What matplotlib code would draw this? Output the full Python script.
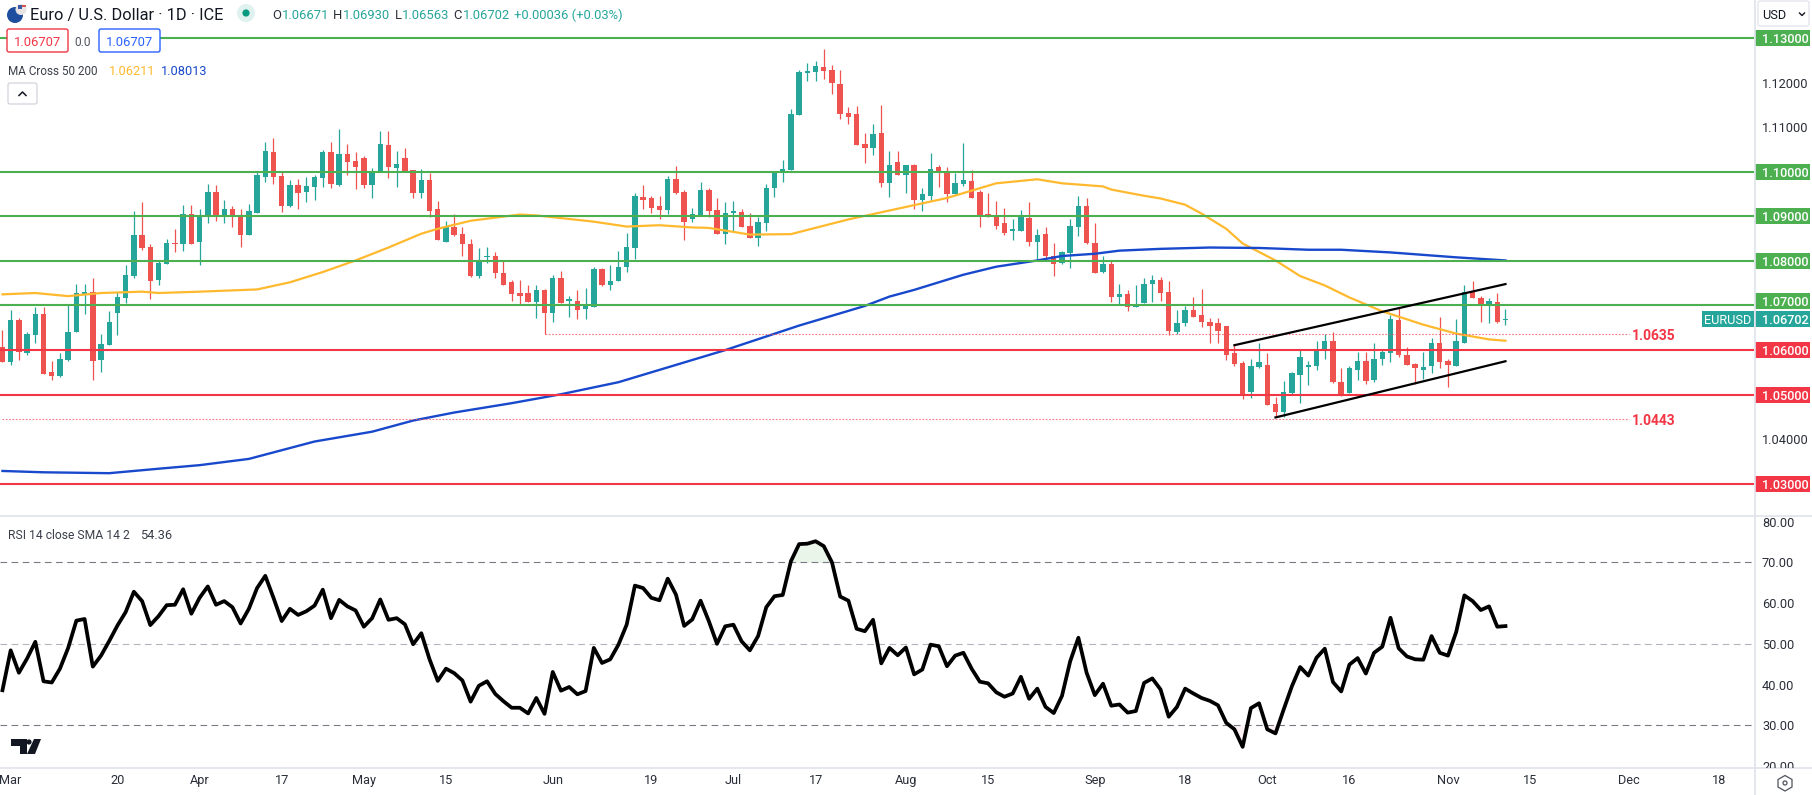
import matplotlib
matplotlib.use('Agg')
from matplotlib import pyplot as plt
from matplotlib.patches import Circle, FancyBboxPatch, Polygon, Rectangle
from matplotlib.transforms import Bbox, TransformedBbox

plt.rcParams['font.family'] = ['Roboto', 'DejaVu Sans']

# daily candles, first visible bar is 28 Feb
opens = [1.0608, 1.0573, 1.0667, 1.0593, 1.0633, 1.0680, 1.0550, 1.0541, 1.0577, 1.0640,
         1.0725, 1.0731, 1.0577, 1.0611, 1.0684, 1.0716, 1.0767, 1.0857, 1.0832, 1.0758,
         1.0794, 1.0841, 1.0839, 1.0906, 1.0843, 1.0899, 1.0955, 1.0904, 1.0917, 1.0899,
         1.0857, 1.0908, 1.0989, 1.1045, 1.0991, 1.0924, 1.0971, 1.0955, 1.0966, 1.0987,
         1.1045, 1.0971, 1.1040, 1.1025, 1.1031, 1.0971, 1.1000, 1.1060, 1.1009, 1.1031,
         1.1004, 1.0953, 1.0982, 1.0917, 1.0843, 1.0875, 1.0861, 1.0839, 1.0767, 1.0808,
         1.0812, 1.0772, 1.0752, 1.0727, 1.0727, 1.0707, 1.0734, 1.0684, 1.0761, 1.0709,
         1.0711, 1.0693, 1.0696, 1.0781, 1.0745, 1.0756, 1.0787, 1.0830, 1.0944, 1.0940,
         1.0922, 1.0915, 1.0984, 1.0955, 1.0893, 1.0904, 1.0960, 1.0915, 1.0861, 1.0908,
         1.0910, 1.0879, 1.0852, 1.0884, 1.0964, 1.0998, 1.1004, 1.1128, 1.1222, 1.1224,
         1.1235, 1.1228, 1.1197, 1.1132, 1.1130, 1.1063, 1.1054, 1.1087, 1.0975, 1.1022,
         1.0993, 1.1014, 1.0937, 1.0946, 1.1011, 1.1002, 1.0951, 1.0973, 1.0980, 1.0955,
         1.0906, 1.0904, 1.0884, 1.0868, 1.0868, 1.0897, 1.0843, 1.0861, 1.0812, 1.0796,
         1.0817, 1.0875, 1.0924, 1.0841, 1.0774, 1.0794, 1.0720, 1.0725, 1.0696, 1.0705,
         1.0749, 1.0758, 1.0731, 1.0640, 1.0660, 1.0691, 1.0678, 1.0662, 1.0660, 1.0655,
         1.0593, 1.0570, 1.0505, 1.0561, 1.0566, 1.0480, 1.0462, 1.0503, 1.0545, 1.0561,
         1.0564, 1.0601, 1.0620, 1.0529, 1.0503, 1.0555, 1.0575, 1.0534, 1.0579, 1.0593,
         1.0667, 1.0590, 1.0568, 1.0556, 1.0564, 1.0615, 1.0575, 1.0564, 1.0617, 1.0731,
         1.0716, 1.0700, 1.0707, 1.0667]
highs = [1.0646, 1.0691, 1.0673, 1.0640, 1.0696, 1.0696, 1.0575, 1.0593, 1.0700, 1.0749,
         1.0749, 1.0761, 1.0637, 1.0687, 1.0731, 1.0790, 1.0913, 1.0931, 1.0839, 1.0801,
         1.0850, 1.0872, 1.0926, 1.0926, 1.0917, 1.0973, 1.0971, 1.0937, 1.0924, 1.0917,
         1.0928, 1.1000, 1.1067, 1.1076, 1.1000, 1.0982, 1.0984, 1.0989, 1.0993, 1.1049,
         1.1067, 1.1096, 1.1063, 1.1045, 1.1036, 1.1009, 1.1092, 1.1092, 1.1047, 1.1054,
         1.1004, 1.1007, 1.0998, 1.0935, 1.0890, 1.0906, 1.0875, 1.0848, 1.0830, 1.0832,
         1.0821, 1.0801, 1.0758, 1.0758, 1.0745, 1.0747, 1.0736, 1.0769, 1.0778, 1.0722,
         1.0734, 1.0740, 1.0787, 1.0785, 1.0790, 1.0823, 1.0863, 1.0953, 1.0971, 1.0946,
         1.0946, 1.0991, 1.1013, 1.0960, 1.0919, 1.0978, 1.0964, 1.0942, 1.0933, 1.0935,
         1.0917, 1.0908, 1.0899, 1.0973, 1.1000, 1.1027, 1.1141, 1.1228, 1.1244, 1.1248,
         1.1275, 1.1239, 1.1228, 1.1146, 1.1148, 1.1087, 1.1107, 1.1150, 1.1047, 1.1047,
         1.1014, 1.1018, 1.0964, 1.1043, 1.1016, 1.1011, 1.0996, 1.1065, 1.1004, 1.0960,
         1.0953, 1.0935, 1.0919, 1.0895, 1.0915, 1.0931, 1.0872, 1.0877, 1.0841, 1.0823,
         1.0893, 1.0946, 1.0940, 1.0884, 1.0810, 1.0799, 1.0749, 1.0734, 1.0745, 1.0761,
         1.0769, 1.0765, 1.0754, 1.0689, 1.0698, 1.0718, 1.0738, 1.0673, 1.0673, 1.0655,
         1.0613, 1.0575, 1.0579, 1.0617, 1.0593, 1.0494, 1.0531, 1.0552, 1.0601, 1.0575,
         1.0620, 1.0635, 1.0640, 1.0559, 1.0564, 1.0595, 1.0595, 1.0617, 1.0603, 1.0678,
         1.0696, 1.0608, 1.0570, 1.0596, 1.0626, 1.0675, 1.0581, 1.0669, 1.0747, 1.0756,
         1.0722, 1.0716, 1.0727, 1.0693]
lows = [1.0573, 1.0566, 1.0577, 1.0590, 1.0617, 1.0546, 1.0534, 1.0539, 1.0575, 1.0640,
        1.0680, 1.0534, 1.0552, 1.0611, 1.0633, 1.0705, 1.0761, 1.0825, 1.0714, 1.0745,
        1.0794, 1.0819, 1.0823, 1.0837, 1.0790, 1.0884, 1.0890, 1.0886, 1.0877, 1.0832,
        1.0857, 1.0908, 1.0978, 1.0973, 1.0910, 1.0921, 1.0917, 1.0933, 1.0937, 1.0966,
        1.0964, 1.0969, 1.0993, 1.0962, 1.0964, 1.0942, 1.1000, 1.0987, 1.0966, 1.1000,
        1.0942, 1.0942, 1.0899, 1.0846, 1.0843, 1.0855, 1.0810, 1.0763, 1.0761, 1.0796,
        1.0761, 1.0747, 1.0709, 1.0702, 1.0707, 1.0673, 1.0635, 1.0662, 1.0705, 1.0675,
        1.0669, 1.0669, 1.0696, 1.0743, 1.0734, 1.0756, 1.0774, 1.0805, 1.0917, 1.0908,
        1.0893, 1.0906, 1.0949, 1.0846, 1.0888, 1.0902, 1.0899, 1.0861, 1.0837, 1.0868,
        1.0877, 1.0852, 1.0834, 1.0868, 1.0944, 1.0978, 1.1004, 1.1128, 1.1204, 1.1204,
        1.1208, 1.1175, 1.1119, 1.1107, 1.1060, 1.1020, 1.1038, 1.0966, 1.0944, 1.0993,
        1.0953, 1.0917, 1.0913, 1.0935, 1.0966, 1.0931, 1.0951, 1.0969, 1.0942, 1.0875,
        1.0899, 1.0872, 1.0857, 1.0846, 1.0868, 1.0834, 1.0803, 1.0805, 1.0767, 1.0794,
        1.0783, 1.0855, 1.0837, 1.0772, 1.0772, 1.0707, 1.0702, 1.0687, 1.0696, 1.0705,
        1.0707, 1.0711, 1.0633, 1.0637, 1.0655, 1.0675, 1.0651, 1.0617, 1.0615, 1.0577,
        1.0564, 1.0490, 1.0492, 1.0559, 1.0478, 1.0449, 1.0451, 1.0501, 1.0482, 1.0521,
        1.0555, 1.0581, 1.0527, 1.0496, 1.0503, 1.0534, 1.0523, 1.0529, 1.0566, 1.0573,
        1.0584, 1.0566, 1.0523, 1.0536, 1.0548, 1.0559, 1.0518, 1.0564, 1.0615, 1.0716,
        1.0664, 1.0660, 1.0660, 1.0656]
closes = [1.0573, 1.0667, 1.0595, 1.0635, 1.0680, 1.0546, 1.0541, 1.0579, 1.0640, 1.0727,
          1.0731, 1.0575, 1.0613, 1.0664, 1.0720, 1.0769, 1.0859, 1.0830, 1.0756, 1.0796,
          1.0841, 1.0839, 1.0906, 1.0837, 1.0902, 1.0955, 1.0904, 1.0917, 1.0899, 1.0857,
          1.0913, 1.0993, 1.1047, 1.0989, 1.0924, 1.0971, 1.0953, 1.0969, 1.0989, 1.1045,
          1.0973, 1.1040, 1.1022, 1.1011, 1.0971, 1.1002, 1.1063, 1.1011, 1.1018, 1.1000,
          1.0953, 1.0982, 1.0913, 1.0846, 1.0875, 1.0859, 1.0837, 1.0767, 1.0803, 1.0812,
          1.0772, 1.0747, 1.0725, 1.0722, 1.0707, 1.0734, 1.0684, 1.0761, 1.0705, 1.0714,
          1.0691, 1.0698, 1.0781, 1.0745, 1.0754, 1.0787, 1.0832, 1.0946, 1.0937, 1.0919,
          1.0915, 1.0984, 1.0953, 1.0888, 1.0906, 1.0960, 1.0913, 1.0861, 1.0908, 1.0913,
          1.0877, 1.0852, 1.0888, 1.0964, 1.1000, 1.1007, 1.1130, 1.1224, 1.1226, 1.1237,
          1.1226, 1.1199, 1.1130, 1.1123, 1.1060, 1.1054, 1.1085, 1.0975, 1.1016, 1.0993,
          1.1014, 1.0937, 1.0951, 1.1007, 1.1000, 1.0951, 1.0975, 1.0982, 1.0942, 1.0904,
          1.0899, 1.0879, 1.0863, 1.0872, 1.0899, 1.0843, 1.0859, 1.0810, 1.0792, 1.0819,
          1.0879, 1.0924, 1.0841, 1.0772, 1.0794, 1.0720, 1.0725, 1.0696, 1.0700, 1.0749,
          1.0758, 1.0727, 1.0642, 1.0660, 1.0691, 1.0675, 1.0662, 1.0655, 1.0642, 1.0590,
          1.0568, 1.0501, 1.0564, 1.0573, 1.0478, 1.0462, 1.0507, 1.0548, 1.0585, 1.0566,
          1.0603, 1.0620, 1.0529, 1.0501, 1.0559, 1.0575, 1.0531, 1.0581, 1.0595, 1.0669,
          1.0590, 1.0566, 1.0559, 1.0561, 1.0615, 1.0573, 1.0566, 1.0620, 1.0731, 1.0716,
          1.0698, 1.0709, 1.0664, 1.0670]

rsi_vals = [38.6, 48.4, 42.9, 46.4, 50.5, 40.8, 40.5, 43.9, 49.0, 55.7,
            56.1, 44.4, 47.1, 50.7, 54.5, 57.8, 62.8, 60.5, 54.6, 56.8,
            59.5, 59.6, 63.4, 57.4, 61.3, 64.1, 59.6, 60.5, 59.0, 55.0,
            58.6, 63.7, 66.7, 61.3, 55.6, 58.6, 57.1, 58.0, 59.4, 63.3,
            56.3, 60.8, 59.2, 58.2, 54.2, 56.3, 60.9, 55.9, 56.3, 54.8,
            49.9, 52.6, 46.2, 40.9, 43.9, 42.8, 41.0, 35.8, 39.7, 40.8,
            37.7, 35.9, 34.3, 34.3, 32.9, 36.7, 32.8, 43.1, 38.5, 39.4,
            37.6, 38.4, 49.0, 45.3, 46.2, 49.8, 54.7, 64.3, 63.7, 61.3,
            60.7, 66.0, 62.1, 54.4, 56.0, 60.6, 55.6, 50.0, 54.3, 54.7,
            50.6, 48.4, 51.9, 59.0, 61.7, 62.0, 70.3, 74.5, 74.6, 75.2,
            74.0, 70.0, 61.6, 60.6, 53.7, 53.1, 55.9, 45.2, 49.0, 47.2,
            49.1, 42.5, 43.7, 49.8, 49.4, 44.5, 47.1, 47.8, 43.9, 40.7,
            40.3, 38.1, 37.0, 37.8, 41.9, 36.5, 39.0, 34.5, 33.0, 37.2,
            45.7, 51.5, 42.9, 37.4, 40.2, 34.8, 35.1, 33.1, 33.5, 40.4,
            41.5, 38.8, 32.1, 34.5, 39.0, 37.8, 36.7, 36.0, 34.9, 30.6,
            29.0, 24.7, 34.2, 35.4, 29.0, 28.0, 33.9, 39.6, 44.3, 42.2,
            46.6, 48.8, 40.6, 38.3, 44.9, 46.5, 42.7, 47.8, 49.3, 56.4,
            48.9, 46.9, 46.2, 46.1, 51.9, 47.8, 47.1, 52.9, 61.9, 60.5,
            58.3, 59.2, 54.2, 54.36]

# moving averages, read at these bars
ma50_bars = [0, 4, 8, 12, 17, 19, 24, 31, 35, 39, 43, 47, 51, 53, 57, 60, 63, 65, 72, 76,
             80, 84, 86, 91, 96, 103, 109, 115, 121, 126, 129, 134, 135, 139, 141, 144,
             146, 149, 151, 155, 158, 161, 164, 168, 173, 177, 181, 183]
ma50_vals = [1.0725, 1.0728, 1.0721, 1.0728, 1.0731, 1.0728, 1.0731, 1.0736, 1.0752, 1.0775,
             1.0801, 1.0830, 1.0861, 1.0872, 1.0890, 1.0897, 1.0904, 1.0902, 1.0888, 1.0877,
             1.0880, 1.0875, 1.0874, 1.0859, 1.0860, 1.0893, 1.0917, 1.0941, 1.0974, 1.0983,
             1.0974, 1.0967, 1.0960, 1.0946, 1.0940, 1.0926, 1.0906, 1.0872, 1.0839, 1.0801,
             1.0766, 1.0745, 1.0718, 1.0687, 1.0657, 1.0637, 1.0624, 1.0621]
ma200_bars = [0, 5, 13, 19, 24, 30, 38, 45, 50, 55, 62, 68, 75, 88, 97, 105, 108, 111, 114,
              117, 121, 126, 129, 133, 136, 141, 147, 153, 159, 163, 169, 177, 183]
ma200_vals = [1.0329, 1.0326, 1.0324, 1.0334, 1.0342, 1.0356, 1.0395, 1.0417, 1.0442, 1.0460,
              1.0481, 1.0501, 1.0528, 1.0600, 1.0655, 1.0699, 1.0720, 1.0735, 1.0752, 1.0769,
              1.0787, 1.0801, 1.0811, 1.0816, 1.0823, 1.0827, 1.0830, 1.0829, 1.0825, 1.0825,
              1.0819, 1.0808, 1.0801]

green_levels = [1.13, 1.10, 1.09, 1.08, 1.07]
red_levels = [1.06, 1.05, 1.03]
plain_prices = [1.12, 1.11, 1.04]
last_close = 1.06702

upper_channel_bars = [150, 183]
upper_channel_vals = [1.0611, 1.0748]
lower_channel_bars = [155, 183]
lower_channel_vals = [1.0449, 1.0575]

dotted_bars = [[66, 198], [0, 198]]
dotted_vals = [1.0635, 1.0445]
dotted_labels = ['1.0635', '1.0443']

date_bars = [1, 14, 24, 34, 44, 54, 67, 79, 89, 99, 110, 120, 133, 144, 154, 164, 176, 186, 198, 209]
date_labels = ['Mar', '20', 'Apr', '17', 'May', '15', 'Jun', '19', 'Jul', '17', 'Aug', '15',
               'Sep', '18', 'Oct', '16', 'Nov', '15', 'Dec', '18']
rsi_ticks = [80, 70, 60, 50, 40, 30, 20]

UP = '#26A69A'
DOWN = '#EF5350'
GREEN = '#4CAF50'
RED = '#F23645'
GOLD = '#FFB92E'
BLUE = '#1848CC'
BORDER = '#E0E3EB'
TEXT = '#2A2E39'

W, H = 1812, 795
PLOT_R, PANE_Y, AXIS_Y = 1754, 516, 768
fig = plt.figure(figsize=(W / 100, H / 100), dpi=100, facecolor='white')

ax = fig.add_axes([0, 1 - PANE_Y / H, PLOT_R / W, PANE_Y / H])
rsi_ax = fig.add_axes([0, 1 - AXIS_Y / H, PLOT_R / W, (AXIS_Y - PANE_Y) / H])
ov = fig.add_axes([0, 0, 1, 1], zorder=10)
ov.set_xlim(0, W)
ov.set_ylim(H, 0)
ov.axis('off')
ov.patch.set_alpha(0)

x_lim = (-0.3, 213.26)
ax.set_xlim(x_lim)
ax.set_ylim(1.0228, 1.1385)
rsi_ax.set_xlim(x_lim)
rsi_ax.set_ylim(19.5, 81.4)

# candles
for i in range(len(closes)):
    col = UP if closes[i] >= opens[i] else DOWN
    ax.vlines(i, lows[i], highs[i], color=col, linewidth=0.9, zorder=2)
    ax.bar(i, abs(closes[i] - opens[i]), bottom=min(opens[i], closes[i]), width=0.66,
           color=col, linewidth=0, zorder=2)

ax.plot(ma50_bars, ma50_vals, color=GOLD, linewidth=1.6, zorder=3)
ax.plot(ma200_bars, ma200_vals, color=BLUE, linewidth=1.7, zorder=3)

for lev in green_levels:
    ax.axhline(lev, color=GREEN, linewidth=1.5, zorder=4)
for lev in red_levels:
    ax.axhline(lev, color=RED, linewidth=1.5, zorder=4)

ax.plot(upper_channel_bars, upper_channel_vals, color='black', linewidth=1.6, zorder=5)
ax.plot(lower_channel_bars, lower_channel_vals, color='black', linewidth=1.6, zorder=5)

for bars, val in zip(dotted_bars, dotted_vals):
    ax.plot(bars, [val, val], color='#F7525F', linewidth=0.8, dashes=(1.5, 1.5), alpha=0.8, zorder=4)

ax.yaxis.tick_right()
ax.set_yticks(plain_prices)
ax.set_yticklabels(['%.5f' % p for p in plain_prices], fontsize=9.2, color=TEXT)
ax.set_xticks([])
ax.tick_params(axis='y', length=0, pad=5.5)
for side in ax.spines:
    ax.spines[side].set_visible(False)

# rsi pane
bars = list(range(len(rsi_vals)))
rsi_ax.axhline(70, color='#787B86', linewidth=0.8, dashes=(6, 4))
rsi_ax.axhline(50, color='#B2B5BE', linewidth=0.8, dashes=(6, 4))
rsi_ax.axhline(30, color='#787B86', linewidth=0.8, dashes=(6, 4))
rsi_ax.fill_between(bars, rsi_vals, 70, where=[v > 70 for v in rsi_vals], interpolate=True,
                    color='#4CAF50', alpha=0.12, linewidth=0)
rsi_ax.fill_between(bars, rsi_vals, 30, where=[v < 30 for v in rsi_vals], interpolate=True,
                    color='#F23645', alpha=0.06, linewidth=0)
rsi_ax.plot(bars, rsi_vals, color='black', linewidth=2.7, solid_joinstyle='round', zorder=3)
rsi_ax.set_yticks([])
rsi_ax.set_xticks(date_bars)
rsi_ax.set_xticklabels(date_labels, fontsize=9.2, color=TEXT)
rsi_ax.tick_params(axis='x', length=0, pad=4.5)
for side in rsi_ax.spines:
    rsi_ax.spines[side].set_visible(False)


def price_y(p):
    return H - ax.transData.transform((0, p))[1]


def rsi_y(v):
    return H - rsi_ax.transData.transform((0, v))[1]


def tag(y, label, colour, x0=PLOT_R + 1, x1=1810):
    ov.add_patch(Rectangle((x0, y - 8), x1 - x0, 16, facecolor=colour, edgecolor='none'))
    ov.text(1762, y, label, color='white', fontsize=9.2, va='center_baseline', ha='left', fontweight='medium')


# pane borders
ov.plot([0, W], [PANE_Y, PANE_Y], color=BORDER, linewidth=1.2)
ov.plot([0, W], [AXIS_Y, AXIS_Y], color=BORDER, linewidth=1.2)
ov.plot([PLOT_R + 0.5, PLOT_R + 0.5], [0, H], color=BORDER, linewidth=1.2)

# price tags
for lev in green_levels:
    y = price_y(lev)
    if lev == 1.07:
        y -= 4
    tag(y, '%.5f' % lev, GREEN)
for lev in red_levels:
    tag(price_y(lev), '%.5f' % lev, RED)
last_y = price_y(last_close)
tag(last_y, '%.5f' % last_close, UP)
ov.add_patch(Rectangle((1702, last_y - 8), 52, 16, facecolor=UP, edgecolor='none'))
ov.text(1728, last_y, 'EURUSD', color='white', fontsize=9.2, va='center_baseline', ha='center')

for val, label in zip(dotted_vals, dotted_labels):
    ov.text(1632, price_y(val), label, color=RED, fontsize=10, fontweight='bold',
            va='center_baseline', ha='left')

clip = TransformedBbox(Bbox([[PLOT_R, PANE_Y], [W, AXIS_Y]]), ov.transData)
for v in rsi_ticks:
    t = ov.text(1762, rsi_y(v), '%.2f' % v, color=TEXT, fontsize=9.2, va='center_baseline', ha='left')
    t.set_clip_box(clip)
    t.set_clip_on(True)

# header
ov.add_patch(Circle((15, 15), 8, facecolor='#1F4E9E', edgecolor='none'))
ov.add_patch(Circle((21, 9.5), 5.5, facecolor='#E8E4E4', edgecolor='none'))
ov.add_patch(Rectangle((18, 5), 4, 4, facecolor='#3C5AA6', edgecolor='none'))
ov.add_patch(Rectangle((22, 5), 4, 2, facecolor='#D9534F', edgecolor='none'))
ov.text(30, 14, 'Euro / U.S. Dollar · 1D · ICE', color='#131722', fontsize=11.8, va='center_baseline')
ov.add_patch(Circle((246, 13), 9, facecolor='#E0F2EF', edgecolor='none'))
ov.add_patch(Circle((246, 13), 3.6, facecolor='#089981', edgecolor='none'))
for x, s, c in [(272, 'O', TEXT), (282, '1.06671', UP), (333, 'H', TEXT), (343, '1.06930', UP),
                (395, 'L', TEXT), (402, '1.06563', UP), (453, 'C', TEXT), (463, '1.06702', UP),
                (514, '+0.00036 (+0.03%)', UP)]:
    ov.text(x, 14, s, color=c, fontsize=9.4, va='center_baseline')

# buy / sell boxes
ov.add_patch(Rectangle((68, 30), 31, 20, facecolor='white', edgecolor='none'))
for x0, x1, c, s in [(7, 68, RED, '1.06707'), (99, 160, '#2962FF', '1.06707')]:
    ov.add_patch(FancyBboxPatch((x0 + 2, 31), x1 - x0 - 4, 19, boxstyle='round,pad=2', facecolor='white',
                                edgecolor=c, linewidth=1))
    ov.text((x0 + x1) / 2, 41, s, color=c, fontsize=9.4, ha='center', va='center_baseline')
ov.text(83, 41, '0.0', color='#50535E', fontsize=8.6, ha='center', va='center_baseline')

ov.text(8, 70, 'MA Cross 50 200', color='#3B3F4A', fontsize=8.5, va='center_baseline')
ov.text(109, 70, '1.06211', color=GOLD, fontsize=9.2, va='center_baseline')
ov.text(161, 70, '1.08013', color=BLUE, fontsize=9.2, va='center_baseline')
ov.add_patch(FancyBboxPatch((10, 85), 25, 17, boxstyle='round,pad=2', facecolor='white',
                            edgecolor='#D1D4DC', linewidth=0.9))
ov.plot([19, 22.5, 26], [95.5, 92, 95.5], color='#131722', linewidth=1.1)

ov.text(8, 534, 'RSI 14 close SMA 14 2', color='#3B3F4A', fontsize=8.7, va='center_baseline')
ov.text(140, 534, '54.36', color='#3B3F4A', fontsize=9.2, va='center_baseline')

# logo
ov.add_patch(Polygon([(11, 739), (27, 739), (27, 754), (20, 754), (20, 746), (11, 746)], facecolor='#131722', edgecolor='none'))
ov.add_patch(Circle((29, 742), 2.6, facecolor='#131722', edgecolor='none'))
ov.add_patch(Polygon([(34, 739), (41, 739), (35, 754), (27, 754)], facecolor='#131722', edgecolor='none'))

# currency box and settings icon
ov.add_patch(FancyBboxPatch((1760, 3), 47, 21, boxstyle='round,pad=2', facecolor='white',
                            edgecolor=BORDER, linewidth=0.9))
ov.text(1762, 14, 'USD', color='#131722', fontsize=9.2, va='center_baseline')
ov.plot([1799.5, 1802, 1804.5], [13, 15.5, 13], color='#131722', linewidth=1)
ov.add_patch(Polygon([(1785, 775.5), (1792, 779.5), (1792, 787), (1785, 791), (1778, 787), (1778, 779.5)],
                     facecolor='white', edgecolor='#50535E', linewidth=0.9))
ov.add_patch(Circle((1785, 783), 2, facecolor='white', edgecolor='#50535E', linewidth=0.9))

fig.savefig('out.png', dpi=100)
